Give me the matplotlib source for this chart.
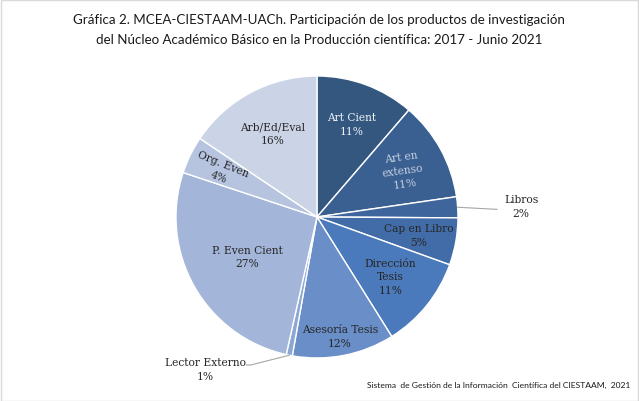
import numpy as np
import matplotlib.pyplot as plt
from matplotlib.patches import Rectangle

# data (slice sizes,
# rounded they give the percentages printed on the chart)
categorias = ["Art Cient", "Art en\nextenso", "Libros", "Cap en Libro", "Dirección\nTesis",
              "Asesoría Tesis", "Lector Externo", "P. Even Cient", "Org. Even", "Arb/Ed/Eval"]
valores = [11.3, 11.4, 2.4, 5.4, 10.6, 11.7, 0.7, 26.6, 4.3, 15.6]

colores = ["#34577f", "#3a5f91", "#3e669d", "#426ca8", "#4a7abb", "#6a8fc8",
           "#8ba7d4", "#a3b5d8", "#b6c4e0", "#cbd4e6"]
texto_col = ["#eef2f8", "#c3cfe2", "#262626", "#262626", "#262626", "#262626",
             "#262626", "#262626", "#262626", "#262626"]
# radial distance and rotation of each inside label; None => outside label
dist_label = [0.705, 0.695, None, 0.73, 0.67, 0.86, None, 0.57, 0.76, 0.675]
rot_label = [0, 8, 0, 0, 0, 0, 0, 0, -22, 0]

fig = plt.figure(figsize=(6.39, 4.02), dpi=100)
fig.patches.append(Rectangle((0.001, 0.001), 0.997, 0.996, transform=fig.transFigure,
                             fill=False, edgecolor="#d9d9d9", linewidth=1))

ax = fig.add_axes([0.2754, 0.107, 0.4413, 0.7015])
wedges, _ = ax.pie(valores, colors=colores, startangle=90, counterclock=False,
                   wedgeprops=dict(edgecolor="white", linewidth=1.0), radius=1.0)
ax.set_xlim(-1, 1)
ax.set_ylim(-1, 1)
ax.set_aspect("equal")
ax.axis("off")

serif = "DejaVu Serif"
fs = 7.7
for i, w in enumerate(wedges):
    ang = np.deg2rad((w.theta1 + w.theta2) / 2)
    txt = f"{categorias[i]}\n{valores[i]:.0f}%"
    if dist_label[i] is not None:
        r = dist_label[i]
        ax.text(r * np.cos(ang), r * np.sin(ang), txt, ha="center", va="center",
                fontsize=fs, family=serif, color=texto_col[i],
                rotation=rot_label[i], linespacing=1.45)
    else:
        xe, ye = np.cos(ang), np.sin(ang)
        if categorias[i] == "Libros":
            ax.plot([xe, 1.277], [ye, ye - 0.015], color="#a6a6a6", lw=0.8, clip_on=False)
            ax.text(1.447, 0.078, txt, ha="center", va="center", fontsize=fs,
                    family=serif, color="#262626", linespacing=1.45)
        else:
            ax.plot([xe, -0.47, -0.50], [ye, -1.05, -1.05],
                    color="#a6a6a6", lw=0.8, clip_on=False)
            ax.text(-0.794, -1.078, txt, ha="center", va="center", fontsize=fs,
                    family=serif, color="#262626", linespacing=1.45)

fig.text(0.499, 0.965, "Gráfica 2. MCEA-CIESTAAM-UACh. Participación de los productos de investigación\n"
         "del Núcleo Académico Básico en la Producción científica: 2017 - Junio 2021",
         ha="center", va="top", fontsize=9.6, family="Lato", color="#1a1a1a", linespacing=1.8)
fig.text(0.986, 0.042, "Sistema  de Gestión de la Información  Científica del CIESTAAM,  2021",
         ha="right", va="center", fontsize=6.1, family="Lato", color="#1a1a1a")

fig.savefig("out.png", dpi=100)
